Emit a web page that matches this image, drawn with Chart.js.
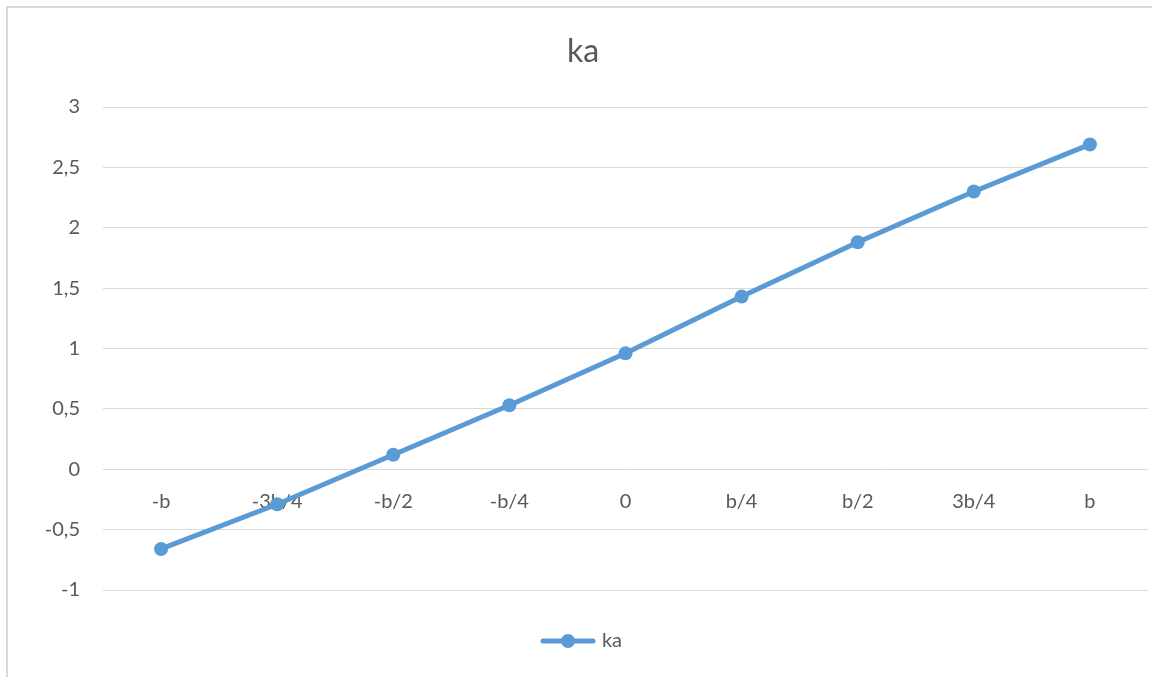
<!DOCTYPE html>
<html>
<head>
<meta charset="utf-8">
<script src="https://cdn.jsdelivr.net/npm/chart.js@4.4.1/dist/chart.umd.min.js"></script>
<style>
  html, body { margin: 0; padding: 0; background: #fff; overflow: hidden; width: 1152px; height: 677px; }
  #frame {
    position: absolute; left: 6px; top: 6px; width: 1146px; height: 671px;
    border-left: 2px solid #d9d9d9; border-top: 2px solid #d9d9d9;
  }
  #wrap { position: absolute; left: 0; top: 0; width: 1155px; height: 677px; }
</style>
</head>
<body>
<div id="frame"></div>
<div id="wrap"><canvas id="kaChart"></canvas></div>
<script>
// Chart data
const xLabels = ['-b', '-3b/4', '-b/2', '-b/4', '0', 'b/4', 'b/2', '3b/4', 'b'];
const kaValues = [-0.66, -0.29, 0.12, 0.53, 0.96, 1.43, 1.88, 2.30, 2.69];
const yTicks = [-1, -0.5, 0, 0.5, 1, 1.5, 2, 2.5, 3];

const lineColor = '#5B9BD5';
const textColor = '#595959';
const fontFamily = 'Lato, "Open Sans", sans-serif';

// Legend marker: short line with a dot in the middle
function legendMarker() {
  const c = document.createElement('canvas');
  c.width = 56;
  c.height = 16;
  const g = c.getContext('2d');
  g.strokeStyle = lineColor;
  g.lineWidth = 5;
  g.lineCap = 'round';
  g.beginPath();
  g.moveTo(3, 8);
  g.lineTo(53, 8);
  g.stroke();
  g.fillStyle = lineColor;
  g.beginPath();
  g.arc(28, 8, 7, 0, Math.PI * 2);
  g.fill();
  return c;
}

const marker = legendMarker();

new Chart(document.getElementById('kaChart').getContext('2d'), {
  type: 'line',
  data: {
    labels: xLabels,
    datasets: [{
      label: 'ka',
      data: kaValues,
      borderColor: lineColor,
      backgroundColor: lineColor,
      borderWidth: 5,
      pointRadius: 7,
      pointHoverRadius: 7,
      pointBackgroundColor: lineColor,
      pointBorderWidth: 0,
      tension: 0
    }]
  },
  options: {
    responsive: true,
    maintainAspectRatio: false,
    animation: false,
    layout: { padding: { left: 11, right: 0, top: 0, bottom: 16 } },
    plugins: {
      title: {
        display: true,
        text: 'ka',
        color: textColor,
        font: { family: fontFamily, size: 32, weight: 'normal' },
        padding: { top: 32.8, bottom: 35.8 }
      },
      legend: {
        position: 'bottom',
        labels: {
          color: textColor,
          font: { family: fontFamily, size: 20 },
          usePointStyle: true,
          pointStyleWidth: 48,
          padding: 41,
          generateLabels: (chart) => chart.data.datasets.map((ds, i) => ({
            text: ds.label,
            pointStyle: marker,
            fillStyle: lineColor,
            strokeStyle: lineColor,
            lineWidth: 0,
            fontColor: textColor,
            datasetIndex: i
          }))
        }
      },
      tooltip: { enabled: false }
    },
    scales: {
      x: {
        position: { y: 0 },
        offset: true,
        afterFit: (scale) => { scale.paddingLeft = 0; scale.paddingRight = 0; },
        grid: { display: false, drawTicks: false },
        border: { display: false },
        ticks: {
          color: textColor,
          font: { family: fontFamily, size: 20 },
          padding: 20,
          maxRotation: 0,
          autoSkip: false
        }
      },
      y: {
        min: -1,
        max: 3,
        afterBuildTicks: (scale) => { scale.ticks = yTicks.map(v => ({ value: v })); },
        afterFit: (scale) => { scale.width = 92; },
        grid: { color: '#d9d9d9', lineWidth: 1, drawTicks: false },
        border: { display: false },
        ticks: {
          color: textColor,
          font: { family: fontFamily, size: 20 },
          padding: 23,
          callback: (v) => String(v).replace('.', ',')
        }
      }
    }
  }
});
</script>
</body>
</html>
